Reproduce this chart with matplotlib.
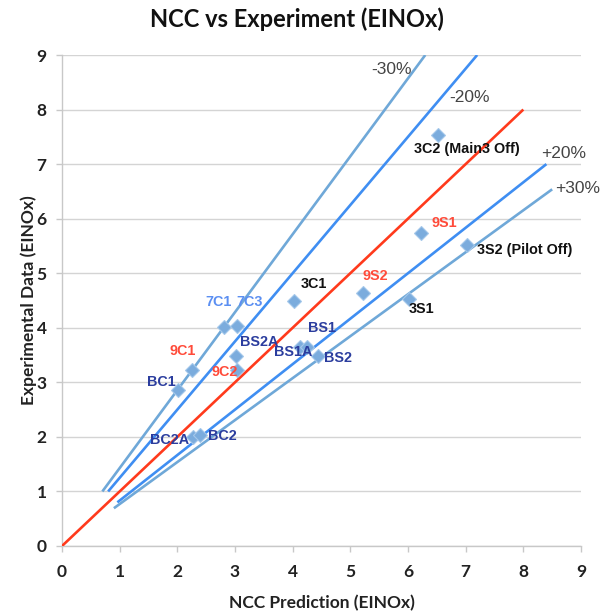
import matplotlib
matplotlib.use("Agg")
import matplotlib.pyplot as plt
import numpy as np

# ---- data ----
labels = ["BC1", "9C1", "BC2A", "BC2", "7C1", "7C3", "BS2A", "9C2",
          "BS1A", "BS1", "BS2", "3C1", "9S2", "3S1", "9S1",
          "3S2 (Pilot Off)", "3C2 (Main3 Off)"]
ncc_pred = [2.01, 2.25, 2.27, 2.39, 2.81, 3.03, 3.02, 3.03,
            4.12, 4.25, 4.44, 4.02, 5.22, 6.01, 6.22, 7.02, 6.52]
exp_data = [2.86, 3.22, 2.00, 2.03, 4.01, 4.03, 3.48, 3.22,
            3.65, 3.65, 3.48, 4.50, 4.63, 4.52, 5.73, 5.51, 7.53]
groups = ["B", "9", "B", "B", "7", "7", "B", "9",
          "B", "B", "B", "3", "9", "3", "9", "3", "3"]

# reference lines: name, ratio y/x, x start, x end
ref_names = ["-30%", "-20%", "0%", "+20%", "+30%"]
ref_ratio = [1 / 0.7, 1 / 0.8, 1.0, 1 / 1.2, 1 / 1.3]
ref_x0 = [0.70, 0.80, 0.0, 0.96, 0.90]
ref_x1 = [6.30, 7.20, 8.0, 8.40, 8.50]

x_ticks = list(range(0, 10))
y_ticks = list(range(0, 10))

# ---- style ----
group_color = {"B": "#2b3d9e", "9": "#ff4b3a", "7": "#5b8ff2", "3": "#111111"}
ref_color = {"-30%": "#6fa8d8", "-20%": "#3f8ef2", "0%": "#ff3a1c",
             "+20%": "#3f8ef2", "+30%": "#6fa8d8"}
# label offsets in pixels (dx, dy) and horizontal alignment
label_off = {
    "BC1": (-17, 8, "center"), "9C1": (-9, 19, "center"),
    "BC2A": (-23, -3, "center"), "BC2": (23, -1, "center"),
    "7C1": (-5, 25, "center"), "7C3": (13, 24, "center"),
    "BS2A": (23, 14, "center"), "9C2": (-12, -2, "center"),
    "BS1A": (-6, -5, "center"), "BS1": (15, 19, "center"),
    "BS2": (20, -2, "center"), "3C1": (20, 16, "center"),
    "9S2": (12, 17, "center"), "3S1": (13, -10, "center"),
    "9S1": (24, 10, "center"),
    "3S2 (Pilot Off)": (10, -5, "left"),
    "3C2 (Main3 Off)": (-24, -14, "left"),
}
pct_text_off = {"-30%": (-34, -15), "-20%": (-8, -42), "+20%": (17, 11),
                "+30%": (25, 1)}

fig = plt.figure(figsize=(6.0, 6.13), dpi=100)
ax = fig.add_axes([62 / 600, 1 - 546 / 613, (581 - 62) / 600, (546 - 55) / 613])

for name, r, x0, x1 in zip(ref_names, ref_ratio, ref_x0, ref_x1):
    xs = np.array([x0, x1])
    ax.plot(xs, r * xs, color=ref_color[name], lw=1.9,
            solid_capstyle="butt", zorder=2 if name != "0%" else 3)
    if name in pct_text_off:
        dx, dy = pct_text_off[name]
        ax.annotate(name, (x1, r * x1), xytext=(dx, dy),
                    textcoords="offset pixels", ha="center", va="center",
                    fontsize=12.5, color="#444444", family="Liberation Sans",
                    zorder=6, annotation_clip=False)

ax.plot(ncc_pred, exp_data, linestyle="none", marker="D", markersize=7.5,
        markerfacecolor="#7bacdd", markeredgecolor="#a5c8ea",
        markeredgewidth=0.8, zorder=4)

for lab, xv, yv, g in zip(labels, ncc_pred, exp_data, groups):
    dx, dy, ha = label_off[lab]
    ax.annotate(lab, (xv, yv), xytext=(dx, dy), textcoords="offset pixels",
                ha=ha, va="center", fontsize=10.4, fontweight="bold",
                color=group_color[g], family="Liberation Sans", zorder=6)

ax.set_xlim(0, 9)
ax.set_ylim(0, 9)
ax.set_xticks(x_ticks)
ax.set_yticks(y_ticks)
ax.yaxis.grid(True, color="#d4d4d4", lw=1)
ax.set_axisbelow(True)
for s in ["top", "right"]:
    ax.spines[s].set_visible(False)
for s in ["left", "bottom"]:
    ax.spines[s].set_color("#c8c8c8")
    ax.spines[s].set_linewidth(1)
ax.tick_params(axis="both", colors="#c8c8c8", length=4, width=1,
               labelcolor="#222222", labelsize=12.5)
for t in ax.get_xticklabels() + ax.get_yticklabels():
    t.set_fontweight("bold")
    t.set_family("Lato")
ax.tick_params(axis="x", pad=9)
ax.tick_params(axis="y", pad=7)

ax.set_xlabel("NCC Prediction (EINOx)", fontsize=12.5, fontweight="bold",
              family="Lato", color="#222222", labelpad=11)
ax.set_ylabel("Experimental Data (EINOx)", fontsize=12.5, fontweight="bold",
              family="Lato", color="#222222", labelpad=0)
fig.text(0.495, 1 - 19 / 613, "NCC vs Experiment (EINOx)", ha="center",
         va="center", fontsize=17, fontweight="bold", family="Lato",
         color="#111111")

fig.savefig("out.png", dpi=100)
